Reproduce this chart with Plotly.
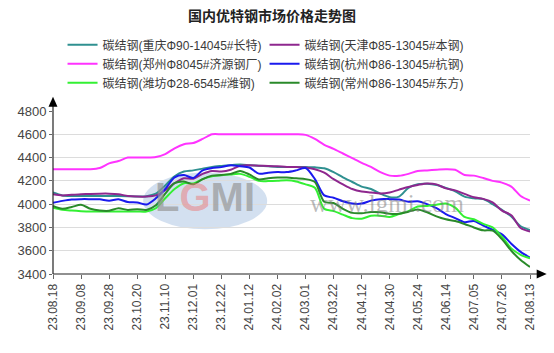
import plotly.graph_objects as go

# trading-day index of each sampled point (every 5 trading days)
days = list(range(0, 256, 5))

tick_days = list(range(0, 256, 15))
tick_labels = ["23.08.18", "23.09.08", "23.09.28", "23.10.20", "23.11.10", "23.12.01",
               "23.12.22", "24.01.12", "24.02.02", "24.03.01", "24.03.22", "24.04.12",
               "24.04.30", "24.05.24", "24.06.14", "24.07.05", "24.07.26", "24.08.13"]

names = ["碳结钢(重庆Φ90-14045#长特)", "碳结钢(天津Φ85-13045#本钢)",
         "碳结钢(郑州Φ8045#济源钢厂)", "碳结钢(杭州Φ86-13045#杭钢)",
         "碳结钢(潍坊Φ28-6545#潍钢)", "碳结钢(常州Φ86-13045#东方)"]

chongqing = [4100, 4075, 4070, 4070, 4070, 4070, 4070, 4070, 4068, 4065,
             4068, 4090, 4160, 4240, 4280, 4290, 4305, 4320, 4328, 4335,
             4340, 4335, 4330, 4325, 4320, 4320, 4320, 4318, 4316, 4308,
             4275, 4230, 4190, 4150, 4130, 4090, 4060, 4065, 4140, 4172,
             4175, 4165, 4140, 4110, 4065, 4050, 4043, 4000, 3950, 3895,
             3810, 3778]

tianjin = [4085, 4075, 4080, 4085, 4088, 4090, 4090, 4085, 4070, 4065,
           4065, 4075, 4120, 4180, 4222, 4218, 4260, 4285, 4280, 4295,
           4330, 4333, 4330, 4328, 4325, 4320, 4318, 4315, 4300, 4270,
           4215, 4170, 4130, 4108, 4100, 4092, 4100, 4125, 4148, 4165,
           4178, 4170, 4135, 4118, 4088, 4060, 4045, 4015, 3945, 3905,
           3795, 3765]

zhengzhou = [4300, 4300, 4300, 4300, 4300, 4310, 4350, 4370, 4400, 4400,
             4400, 4405, 4430, 4480, 4515, 4525, 4560, 4600, 4600, 4600,
             4600, 4600, 4600, 4600, 4600, 4600, 4600, 4595, 4560, 4510,
             4475, 4435, 4395, 4355, 4320, 4275, 4245, 4243, 4260, 4285,
             4290, 4295, 4300, 4295, 4250, 4245, 4225, 4200, 4185, 4150,
             4070, 4030]

hangzhou = [4012, 4028, 4040, 4043, 4043, 4042, 4030, 4042, 4018, 4015,
            3997, 4050, 4130, 4230, 4250, 4225, 4290, 4310, 4318, 4335,
            4325, 4315, 4262, 4270, 4275, 4275, 4290, 4310, 4215, 4075,
            4055, 4025, 4005, 4005, 4030, 4043, 4043, 4040, 4020, 4025,
            4000, 3965, 3915, 3880, 3845, 3855, 3815, 3780, 3740, 3660,
            3590, 3540]

weifang = [3970, 3952, 3945, 3940, 3937, 3937, 3937, 3937, 3937, 3937,
           3937, 3965, 4050, 4130, 4180, 4178, 4215, 4240, 4248, 4255,
           4260, 4235, 4200, 4198, 4200, 4205, 4195, 4170, 4140, 3960,
           3940, 3910, 3880, 3875, 3900, 3900, 3890, 3915, 3940, 3980,
           3985, 3995, 4005, 3970, 3890, 3870, 3830, 3800, 3720, 3620,
           3565, 3535]

changzhou = [3985, 3960, 3975, 3995, 3960, 3945, 3943, 3965, 3950, 3957,
             3950, 3990, 4090, 4180, 4195, 4170, 4215, 4245, 4250, 4260,
             4285, 4255, 4212, 4222, 4228, 4228, 4222, 4215, 4190, 4020,
             4010, 3960, 3925, 3922, 3932, 3930, 3918, 3918, 3935, 3955,
             3930, 3895, 3870, 3855, 3830, 3800, 3775, 3772, 3700, 3600,
             3520, 3460]

series = [chongqing, tianjin, zhengzhou, hangzhou, weifang, changzhou]
colors = ["#2f9090", "#8e278e", "#ff33ff", "#1a1aee", "#33f033", "#2a8a2a"]

fig = go.Figure()
for name, vals, col in zip(names, series, colors):
    fig.add_trace(go.Scatter(
        x=days, y=vals, mode="lines", name=name,
        line=dict(color=col, width=2, shape="spline", smoothing=0.8),
    ))

fig.update_layout(
    width=554, height=353,
    margin=dict(l=53, r=24, t=111, b=79),
    paper_bgcolor="white", plot_bgcolor="white",
    title=dict(text="<b>国内优特钢市场价格走势图</b>", x=0.491, xanchor="center",
               y=0.955, yanchor="middle",
               font=dict(family="Noto Sans CJK SC", size=14, color="#222")),
    legend=dict(orientation="h", x=0.02, xanchor="left", y=1.495, yanchor="top",
                entrywidth=157, itemwidth=30, traceorder="normal",
                font=dict(family="Liberation Sans, Noto Sans CJK SC", size=12, color="#3a3a3a"),
                bgcolor="rgba(0,0,0,0)"),
    showlegend=True,
    xaxis=dict(range=[0, 255], tickvals=tick_days, ticktext=tick_labels,
               tickangle=-90, showgrid=False, zeroline=False, showline=False,
               ticks="outside", ticklen=4, tickcolor="#666",
               tickfont=dict(family="Liberation Sans", size=12, color="#444")),
    yaxis=dict(range=[3400, 4800], dtick=200, showgrid=True, gridcolor="#dcdcdc",
               gridwidth=1, zeroline=False, showline=False,
               ticks="outside", ticklen=3, tickcolor="#666",
               tickfont=dict(family="Liberation Sans", size=13, color="#444")),
)

# watermark
fig.add_shape(type="circle", xref="paper", yref="paper", x0=0.189, x1=0.449,
              y0=0.274, y1=0.623, fillcolor="rgba(175,198,228,0.55)",
              line=dict(width=0), layer="below")
fig.add_annotation(xref="paper", yref="paper", x=0.318, y=0.47, showarrow=False,
                   xanchor="center", yanchor="middle",
                   text='<b>L<span style="color:rgba(235,120,120,0.75)">G</span>MI</b>',
                   font=dict(family="Liberation Sans", size=40, color="rgba(150,150,150,0.7)"))
fig.add_annotation(xref="paper", yref="paper", x=0.70, y=0.43, showarrow=False,
                   xanchor="center", yanchor="middle",
                   text="www.lgmi.com",
                   font=dict(family="Liberation Serif", size=25, color="rgba(120,120,120,0.5)"))

# axis lines with arrowheads
fig.add_shape(type="line", xref="paper", yref="paper", x0=0, x1=0, y0=0, y1=1.04,
              line=dict(color="#222", width=1.2))
fig.add_shape(type="line", xref="paper", yref="paper", x0=0, x1=1.02, y0=0, y1=0,
              line=dict(color="#222", width=1.2))
fig.add_shape(type="path", xref="paper", yref="paper",
              path="M -0.0094 1.026 L 0.0094 1.026 L 0 1.0875 Z",
              fillcolor="black", line=dict(width=0))
fig.add_shape(type="path", xref="paper", yref="paper",
              path="M 1.014 0.0276 L 1.014 -0.0276 L 1.035 0 Z",
              fillcolor="black", line=dict(width=0))

fig.write_html("out.html")
